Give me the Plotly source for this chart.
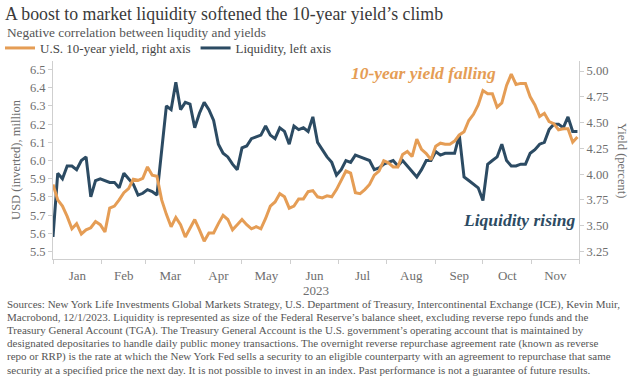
import pandas as pd
import plotly.graph_objects as go

# ---- data (one value every 3 days, Jan 1 .. Nov 30, 2023) ----
dates = pd.date_range("2023-01-01", periods=112, freq="3D")

liquidity = [
    5.58, 5.93, 5.90, 5.97, 5.97, 5.95, 6.00, 6.02, 5.80, 5.89,
    5.90, 5.89, 5.88, 5.88, 5.85, 5.93, 5.90, 5.87, 5.81, 5.82,
    5.84, 5.83, 5.81, 6.05, 6.30, 6.28, 6.43, 6.28, 6.32, 6.31,
    6.18, 6.26, 6.32, 6.28, 6.22, 6.09, 6.04, 6.02, 5.98, 5.95,
    6.07, 6.08, 6.12, 6.13, 6.14, 6.19, 6.14, 6.12, 6.18, 6.16,
    6.09, 6.19, 6.17, 6.18, 6.16, 6.24, 6.10, 6.06, 6.02, 5.99,
    5.92, 5.95, 6.00, 5.99, 6.03, 6.02, 6.01, 6.00, 5.95, 5.96,
    5.98, 5.99, 6.00, 5.97, 6.00, 5.97, 5.94, 5.91, 5.95, 6.00,
    6.00, 6.05, 6.03, 6.04, 6.04, 6.04, 6.14, 5.91, 5.89, 5.87,
    5.85, 5.78, 5.98, 6.00, 6.02, 6.09, 6.00, 5.97, 5.97, 5.98,
    5.98, 6.04, 6.06, 6.09, 6.10, 6.17, 6.20, 6.20, 6.18, 6.24,
    6.16, 6.16,
]

yield_10y = [
    3.90, 3.75, 3.69, 3.59, 3.47, 3.52, 3.42, 3.46, 3.48, 3.54,
    3.51, 3.44, 3.67, 3.69, 3.75, 3.82, 3.86, 3.95, 3.94, 3.96,
    4.07, 3.99, 3.98, 3.75, 3.61, 3.49, 3.58, 3.51, 3.39, 3.47,
    3.56, 3.46, 3.35, 3.43, 3.43, 3.52, 3.60, 3.56, 3.46, 3.51,
    3.56, 3.51, 3.47, 3.49, 3.47, 3.57, 3.69, 3.73, 3.81, 3.78,
    3.67, 3.69, 3.76, 3.76, 3.83, 3.84, 3.78, 3.77, 3.79, 3.78,
    3.85, 3.94, 4.03, 4.01, 3.82, 3.81, 3.85, 3.90, 3.99, 4.03,
    4.13, 4.11, 4.07, 4.07, 4.19, 4.22, 4.17, 4.34, 4.24, 4.20,
    4.14, 4.27, 4.30, 4.29, 4.29, 4.32, 4.38, 4.41, 4.52, 4.58,
    4.67, 4.81, 4.78, 4.78, 4.65, 4.69, 4.86, 4.97, 4.87, 4.88,
    4.88, 4.75, 4.67, 4.56, 4.59, 4.51, 4.49, 4.43, 4.44, 4.44,
    4.31, 4.36,
]

left_ticks = [5.5, 5.6, 5.7, 5.8, 5.9, 6.0, 6.1, 6.2, 6.3, 6.4, 6.5]
right_ticks = [3.25, 3.50, 3.75, 4.00, 4.25, 4.50, 4.75, 5.00]

title_text = "A boost to market liquidity softened the 10-year yield\u2019s climb"
subtitle_text = "Negative correlation between liqudity and yields"
footnote_lines = [
    "Sources: New York Life Investments Global Markets Strategy, U.S. Department of Treasury, Intercontinental Exchange (ICE), Kevin Muir,",
    "Macrobond, 12/1/2023. Liquidity is represented as size of the Federal Reserve\u2019s balance sheet, excluding reverse repo funds and the",
    "Treasury General Account (TGA). The Treasury General Account is the U.S. government\u2019s operating account that is maintained by",
    "designated depositaries to handle daily public money transactions. The overnight reverse repurchase agreement rate (known as reverse",
    "repo or RRP) is the rate at which the New York Fed sells a security to an eligible counterparty with an agreement to repurchase that same",
    "security at a specified price the next day. It is not possible to invest in an index. Past performance is not a guarantee of future results.",
]

# ---- style ----
ORANGE = "#E59D55"
BLUE = "#2C4B63"
SERIF = "Liberation Serif, DejaVu Serif, serif"
AXIS_GRAY = "#cfcfcf"
TICK_GRAY = "#6e6e6e"

W, H = 640, 380
L, R, T, B = 53, 61, 61, 121
plot_h = H - T - B
plot_w = W - L - R


def py(ypix):
    return (H - B - ypix) / plot_h


def px(xpix):
    return (xpix - L) / plot_w


fig = go.Figure()
fig.add_trace(go.Scatter(
    x=dates, y=yield_10y, name="U.S. 10-year yield, right axis",
    yaxis="y2", mode="lines", line=dict(color=ORANGE, width=3),
))
fig.add_trace(go.Scatter(
    x=dates, y=liquidity, name="Liquidity, left axis",
    yaxis="y", mode="lines", line=dict(color=BLUE, width=3),
))

annotations = [
    dict(text=subtitle_text, xref="paper", yref="paper", x=px(5), y=py(32),
         xanchor="left", yanchor="middle", showarrow=False,
         font=dict(family=SERIF, size=13.3, color="#555555")),
    dict(text="<b><i>10-year yield falling</i></b>", xref="paper", yref="paper",
         x=px(423), y=py(73), xanchor="center", yanchor="middle", showarrow=False,
         font=dict(family=SERIF, size=17.5, color=ORANGE)),
    dict(text="<b><i>Liquidity rising</i></b>", xref="paper", yref="paper",
         x=px(578), y=py(220), xanchor="right", yanchor="middle", showarrow=False,
         font=dict(family=SERIF, size=17.5, color=BLUE)),
    dict(text="Yield (percent)", xref="paper", yref="paper", x=px(622), y=py(160),
         xanchor="center", yanchor="middle", showarrow=False, textangle=90,
         font=dict(family=SERIF, size=12.5, color=TICK_GRAY)),
]
for i, line in enumerate(footnote_lines):
    annotations.append(dict(
        text=line, xref="paper", yref="paper", x=px(5), y=py(304 + 13.2 * i),
        xanchor="left", yanchor="middle", showarrow=False,
        font=dict(family=SERIF, size=11.0, color="#555555"),
    ))

fig.update_layout(
    width=W, height=H,
    margin=dict(l=L, r=R, t=T, b=B, autoexpand=False),
    paper_bgcolor="white", plot_bgcolor="white",
    title=dict(text=title_text, xref="container", yref="container",
               x=5 / W, y=1 - 14 / H, xanchor="left", yanchor="middle",
               font=dict(family=SERIF, size=17.8, color="#3a3a3a")),
    legend=dict(orientation="h", xref="container", yref="container",
                x=0.0, y=1 - 48 / H, xanchor="left", yanchor="middle",
                font=dict(family=SERIF, size=13, color="#444444"),
                bgcolor="rgba(0,0,0,0)"),
    showlegend=True,
    xaxis=dict(
        type="date", range=["2023-01-01", "2023-12-01"],
        dtick="M1", tick0="2023-01-01", tickformat="%b", ticklabelmode="period",
        ticks="outside", ticklen=4, tickcolor=AXIS_GRAY,
        showline=True, linecolor=AXIS_GRAY, linewidth=1,
        showgrid=False, zeroline=False,
        tickfont=dict(family=SERIF, size=13, color=TICK_GRAY),
        title=dict(text="2023", standoff=1,
                   font=dict(family=SERIF, size=13, color=TICK_GRAY)),
    ),
    yaxis=dict(
        range=[5.459, 6.547], tickvals=left_ticks, tickformat=".1f",
        ticks="outside", ticklen=4, tickcolor=AXIS_GRAY,
        showline=True, linecolor=AXIS_GRAY, linewidth=1,
        showgrid=False, zeroline=False,
        tickfont=dict(family=SERIF, size=12.5, color=TICK_GRAY),
        title=dict(text="USD (inverted), million", standoff=6,
                   font=dict(family=SERIF, size=12.5, color=TICK_GRAY)),
    ),
    yaxis2=dict(
        overlaying="y", side="right",
        range=[3.177, 5.097], tickvals=right_ticks, tickformat=".2f",
        ticks="outside", ticklen=4, tickcolor=AXIS_GRAY,
        showline=True, linecolor=AXIS_GRAY, linewidth=1,
        showgrid=False, zeroline=False,
        tickfont=dict(family=SERIF, size=12.5, color=TICK_GRAY),
    ),
    annotations=annotations,
)

fig.write_html(
    "out.html",
    config={"displayModeBar": False},
    post_script="document.body.style.margin='0';",
)
